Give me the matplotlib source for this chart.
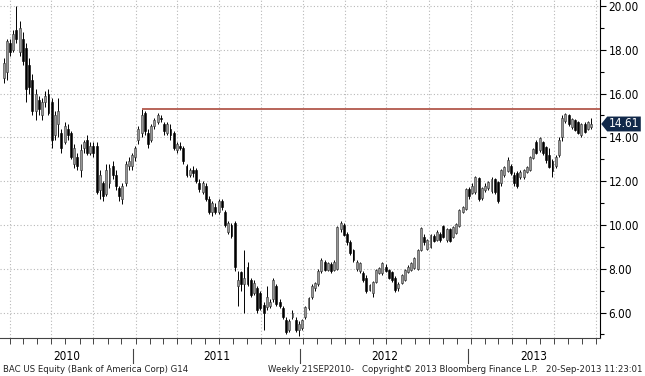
import numpy as np
import pandas as pd
import matplotlib
matplotlib.use("Agg")
import matplotlib.pyplot as plt
import matplotlib.dates as mdates
import matplotlib.transforms as mtransforms
from matplotlib.patches import Polygon
from matplotlib import font_manager

# weekly BAC candles (last week = 20 Sep 2013)
opens = [16.7, 17.0, 18.3, 18.0, 18.9, 17.9, 18.5, 18.1, 17.3, 16.6,
         15.2, 15.7, 15.0, 15.6, 16.0, 15.6, 14.1, 14.6, 14.2, 13.8,
         14.4, 14.2, 12.8, 13.1, 12.5, 13.5, 13.9, 13.3, 13.6, 13.6,
         11.6, 11.9, 11.4, 11.9, 12.7, 12.3, 11.7, 11.2, 11.9, 12.7,
         12.7, 13.1, 13.9, 14.2, 15.1, 14.2, 13.9, 14.5, 14.7, 14.9,
         14.6, 14.2, 14.4, 14.2, 13.4, 13.6, 13.5, 12.7, 12.3, 12.5,
         12.5, 11.9, 11.5, 11.8, 11.2, 10.6, 10.8, 10.6, 11.1, 10.6,
         9.7, 10.0, 10.1, 7.2, 7.85, 7.3, 8.1, 7.5, 6.9, 7.1,
         6.9, 6.35, 6.25, 6.3, 6.6, 7.2, 6.5, 6.2, 5.65, 5.2,
         5.8, 5.65, 5.2, 5.3, 5.8, 6.2, 6.7, 7.1, 7.3, 7.9,
         8.3, 7.95, 8.2, 7.95, 8.0, 9.8, 10.0, 9.6, 9.2, 8.85,
         8.0, 7.9, 7.8, 7.6, 7.05, 6.9, 7.4, 7.8, 7.8, 8.1,
         7.95, 7.85, 7.6, 7.1, 7.35, 7.5, 7.85, 7.95, 8.05, 8.0,
         8.85, 9.45, 8.9, 9.0, 9.5, 9.3, 9.6, 9.95, 9.3, 9.8,
         9.45, 9.65, 9.95, 10.6, 10.75, 11.65, 11.45, 11.5, 12.15, 11.25,
         11.6, 11.7, 11.55, 12.1, 11.95, 11.9, 12.3, 12.45, 12.7, 12.3,
         12.35, 12.2, 12.2, 12.4, 12.5, 13.05, 13.8, 13.4, 13.8, 13.55,
         13.2, 12.9, 12.7, 13.2, 14.0, 14.75, 15.0, 14.45, 14.8, 14.7,
         14.1, 14.6, 14.4, 14.45]
highs = [17.6, 18.5, 18.5, 18.9, 20.0, 19.3, 18.8, 18.3, 17.6, 16.9,
         16.2, 15.9, 15.8, 16.1, 16.2, 15.8, 15.2, 15.8, 14.4, 14.7,
         14.6, 14.3, 13.7, 13.3, 13.7, 13.9, 14.1, 13.8, 13.8, 13.8,
         12.5, 12.0, 12.8, 12.8, 12.9, 12.5, 11.8, 11.9, 12.9, 13.1,
         13.3, 13.6, 14.5, 15.31, 15.2, 14.4, 14.6, 14.9, 15.1, 15.0,
         14.7, 14.7, 14.6, 14.3, 13.8, 13.8, 13.6, 12.8, 12.6, 12.7,
         12.6, 12.1, 12.0, 11.9, 11.3, 11.1, 11.0, 11.2, 11.2, 10.7,
         10.2, 10.1, 10.2, 7.9, 7.9, 8.85, 8.3, 7.6, 7.5, 7.2,
         7.0, 6.5, 7.2, 6.6, 7.6, 7.3, 6.6, 6.3, 5.8, 5.7,
         6.1, 5.8, 5.6, 5.7, 6.3, 6.7, 7.3, 7.4, 8.0, 8.5,
         8.4, 8.3, 8.3, 8.4, 9.95, 10.2, 10.1, 9.7, 9.3, 8.9,
         8.4, 8.3, 7.9, 7.7, 7.3, 7.45, 8.0, 8.1, 8.3, 8.2,
         8.0, 7.9, 7.65, 7.4, 7.75, 8.0, 8.15, 8.3, 8.55, 8.9,
         9.9, 9.6, 9.35, 9.6, 9.6, 9.75, 9.7, 10.0, 9.85, 9.85,
         9.95, 10.1, 10.75, 10.85, 11.7, 11.75, 11.9, 12.25, 12.2, 11.75,
         11.9, 12.0, 12.2, 12.15, 12.0, 12.55, 12.7, 13.1, 12.8, 12.4,
         12.45, 12.5, 12.55, 12.7, 13.15, 13.5, 13.9, 14.0, 13.85, 13.6,
         13.5, 13.0, 13.2, 14.0, 15.0, 15.1, 15.05, 14.9, 14.85, 14.75,
         14.65, 14.7, 14.75, 14.9]
lows = [16.5, 16.6, 17.7, 17.9, 18.3, 17.7, 17.3, 15.6, 16.0, 15.0,
        14.8, 15.0, 14.8, 15.4, 15.0, 13.5, 13.9, 14.0, 13.3, 13.7,
        13.9, 13.0, 12.6, 12.5, 12.2, 13.3, 13.2, 13.2, 13.1, 11.4,
        11.2, 11.1, 11.3, 11.7, 12.1, 11.6, 11.1, 10.95, 11.8, 12.5,
        12.5, 12.9, 13.7, 14.0, 14.1, 13.5, 13.8, 14.4, 14.6, 14.7,
        14.1, 14.1, 13.9, 13.4, 13.3, 13.4, 12.8, 12.2, 12.2, 12.2,
        11.9, 11.5, 11.4, 11.1, 10.5, 10.4, 10.5, 10.5, 10.7, 9.9,
        9.6, 9.4, 7.9, 6.3, 7.0, 6.0, 7.2, 6.7, 6.8, 6.0,
        6.1, 5.2, 6.1, 6.2, 6.5, 6.3, 6.2, 5.7, 5.0, 5.1,
        5.7, 5.1, 4.92, 5.2, 5.7, 6.1, 6.6, 7.0, 7.2, 7.8,
        7.9, 7.9, 7.8, 7.9, 7.95, 9.7, 9.5, 9.1, 8.65, 8.3,
        7.9, 7.8, 7.4, 6.9, 7.0, 6.7, 7.35, 7.75, 7.7, 7.85,
        7.55, 7.4, 6.95, 7.0, 7.3, 7.45, 7.8, 7.9, 8.0, 7.95,
        8.8, 9.1, 8.85, 8.95, 9.2, 9.25, 9.2, 9.4, 9.2, 9.2,
        9.4, 9.6, 9.9, 10.55, 10.7, 11.2, 11.4, 11.4, 11.1, 11.15,
        11.5, 11.6, 11.45, 11.4, 11.0, 11.8, 12.2, 12.4, 12.3, 11.8,
        11.7, 12.1, 12.1, 12.35, 12.45, 13.0, 13.25, 13.35, 13.2, 12.85,
        12.6, 12.2, 12.6, 13.1, 13.85, 14.65, 14.5, 14.4, 14.3, 14.15,
        14.0, 14.2, 14.35, 14.4]
closes = [17.4, 18.4, 17.9, 18.7, 18.5, 19.0, 17.5, 16.2, 16.3, 15.2,
          16.0, 15.3, 15.6, 15.9, 15.1, 13.9, 15.0, 15.2, 13.5, 14.5,
          14.1, 13.1, 13.5, 12.7, 13.4, 13.8, 13.3, 13.6, 13.3, 11.5,
          12.3, 11.3, 12.5, 12.6, 12.3, 11.8, 11.3, 11.8, 12.8, 12.9,
          13.2, 13.5, 14.4, 15.0, 14.3, 13.7, 14.5, 14.8, 15.0, 14.85,
          14.3, 14.6, 14.1, 13.5, 13.7, 13.5, 12.9, 12.3, 12.5, 12.35,
          12.0, 11.65, 11.9, 11.2, 10.6, 11.0, 10.6, 11.1, 10.8, 10.0,
          10.1, 9.5, 8.1, 7.5, 7.3, 7.6, 7.3, 6.8, 7.35, 6.1,
          6.2, 6.0, 6.7, 6.5, 7.5, 6.4, 6.3, 5.8, 5.1, 5.6,
          6.0, 5.2, 5.5, 5.65, 6.25, 6.65, 7.2, 7.35, 7.9, 8.4,
          7.95, 8.25, 7.9, 8.3, 9.9, 10.1, 9.55, 9.2, 8.7, 8.4,
          8.3, 8.25, 7.5, 7.0, 7.25, 7.4, 7.95, 8.05, 8.25, 7.9,
          7.6, 7.5, 7.05, 7.3, 7.7, 7.95, 8.1, 8.25, 8.5, 8.85,
          9.85, 9.2, 9.3, 9.55, 9.25, 9.7, 9.3, 9.45, 9.8, 9.25,
          9.9, 10.05, 10.7, 10.8, 11.65, 11.3, 11.8, 12.2, 11.2, 11.7,
          11.8, 11.95, 12.1, 11.5, 11.1, 12.5, 12.65, 12.95, 12.35, 11.9,
          11.8, 12.4, 12.5, 12.65, 13.1, 13.45, 13.3, 13.95, 13.3, 12.95,
          12.65, 12.45, 13.1, 13.9, 14.9, 15.05, 14.6, 14.85, 14.35, 14.2,
          14.6, 14.25, 14.7, 14.61]

weeks = pd.date_range(end='2013-09-20', periods=len(closes), freq='7D')
resistance = 15.31
last_price = 14.61
year_labels = ['2010', '2011', '2012', '2013']
year_starts = ['2010-12-26', '2011-12-26', '2012-12-26']
footer_left = 'BAC US Equity (Bank of America Corp) G14'
footer_mid = 'Weekly 21SEP2010-'
footer_copy = 'Copyright\u00a9 2013 Bloomberg Finance L.P.'
footer_time = '20-Sep-2013 11:23:01'

# narrow face if the condensed DejaVu is there, else plain DejaVu a bit smaller
cond = font_manager.FontProperties(family='DejaVu Sans', stretch='condensed')
has_cond = 'Condensed' in font_manager.findfont(cond)
if has_cond:
    txt = dict(family='DejaVu Sans', stretch='condensed')
    fs_foot, fs_tick = 6.8, 8.5
else:
    txt = dict(family='DejaVu Sans')
    fs_foot, fs_tick = 5.8, 7.5

o = np.array(opens)
h = np.array(highs)
l = np.array(lows)
c = np.array(closes)
x = mdates.date2num(weeks)
up = c >= o

fig = plt.figure(figsize=(6.45, 3.76), dpi=100)
ax = fig.add_axes([0, 38 / 376, 600 / 645, 338 / 376])

x_left = mdates.date2num(pd.Timestamp('2010-03-11 06:00'))
x_right = mdates.date2num(pd.Timestamp('2013-10-09 14:00'))
ax.set_xlim(x_left, x_right)
ax.set_ylim(4.84, 20.27)

# candles
ax.vlines(x, l, h, color='black', linewidth=0.7, zorder=3)
ax.bar(x[up], (c - o)[up], bottom=o[up], width=4.2, color='#969696',
       edgecolor='#333333', linewidth=0.4, zorder=4)
ax.bar(x[~up], (o - c)[~up], bottom=c[~up], width=4.2, color='black',
       edgecolor='black', linewidth=0.4, zorder=4)

# resistance line from the early-2011 high
i_peak = highs.index(resistance)
ax.hlines(resistance, x[i_peak], x_right, color='#b2584c', linewidth=1.3, zorder=5)

# grid
ax.xaxis.set_major_locator(mdates.MonthLocator(bymonth=(1, 4, 7, 10)))
ax.xaxis.set_minor_locator(mdates.MonthLocator())
ax.set_yticks(np.arange(6, 21, 2))
ax.set_yticks(np.arange(5, 21, 1), minor=True)
ax.grid(True, which='major', color='#b8b8b8', linestyle=(0, (1, 2)), linewidth=0.8)
ax.set_axisbelow(True)

# axes look
for side in ('left', 'top'):
    ax.spines[side].set_visible(False)
ax.spines['right'].set_color('black')
ax.spines['bottom'].set_color('#444444')
ax.yaxis.tick_right()
ax.tick_params(axis='y', which='major', direction='out', length=4, width=0.8,
               pad=2, labelsize=fs_tick, colors='black')
ax.tick_params(axis='y', which='minor', direction='out', length=3, width=0.8)
ax.yaxis.set_major_formatter(matplotlib.ticker.FormatStrFormatter('%.2f'))
for lab in ax.get_yticklabels():
    lab.set_fontproperties(font_manager.FontProperties(size=fs_tick, **txt))
ax.tick_params(axis='x', which='both', direction='out', length=4, width=0.7,
               labelbottom=False, colors='#444444')

# year separators and labels below the axis
trans = mtransforms.blended_transform_factory(ax.transData, fig.transFigure)
bounds = [x_left] + [mdates.date2num(pd.Timestamp(d)) for d in year_starts] + [x_right]
for b in bounds[1:-1]:
    ax.plot([b, b], [1 - 349 / 376, 1 - 363 / 376], color='#444444', linewidth=0.8,
            transform=trans, clip_on=False)
for lab, a, b in zip(year_labels, bounds[:-1], bounds[1:]):
    ax.text((a + b) / 2, 1 - 357 / 376, lab, transform=trans, ha='center', va='center',
            fontsize=fs_tick, color='black', **txt)

# footer
fy = 1 - 370 / 376
fig.text(3 / 645, fy, footer_left, ha='left', va='center', fontsize=fs_foot, color='#222222', **txt)
fig.text(268 / 645, fy, footer_mid, ha='left', va='center', fontsize=fs_foot, color='#222222', **txt)
fig.text(362 / 645, fy, footer_copy, ha='left', va='center', fontsize=fs_foot, color='#222222', **txt)
fig.text(643 / 645, fy, footer_time, ha='right', va='center', fontsize=fs_foot, color='#222222', **txt)

# last price tag
tag_t = mtransforms.blended_transform_factory(ax.transAxes, ax.transData)
hh = 0.34
tag = Polygon([(1.002, last_price), (1.012, last_price + hh), (1.068, last_price + hh),
               (1.068, last_price - hh), (1.012, last_price - hh)],
              closed=True, transform=tag_t, facecolor='#12294a', edgecolor='none',
              clip_on=False, zorder=6)
ax.add_patch(tag)
ax.text(1.04, last_price, f'{last_price:.2f}', transform=tag_t, ha='center', va='center',
        color='white', fontsize=fs_tick, zorder=7, clip_on=False, **txt)

fig.savefig('out.png', dpi=100, facecolor='white')
